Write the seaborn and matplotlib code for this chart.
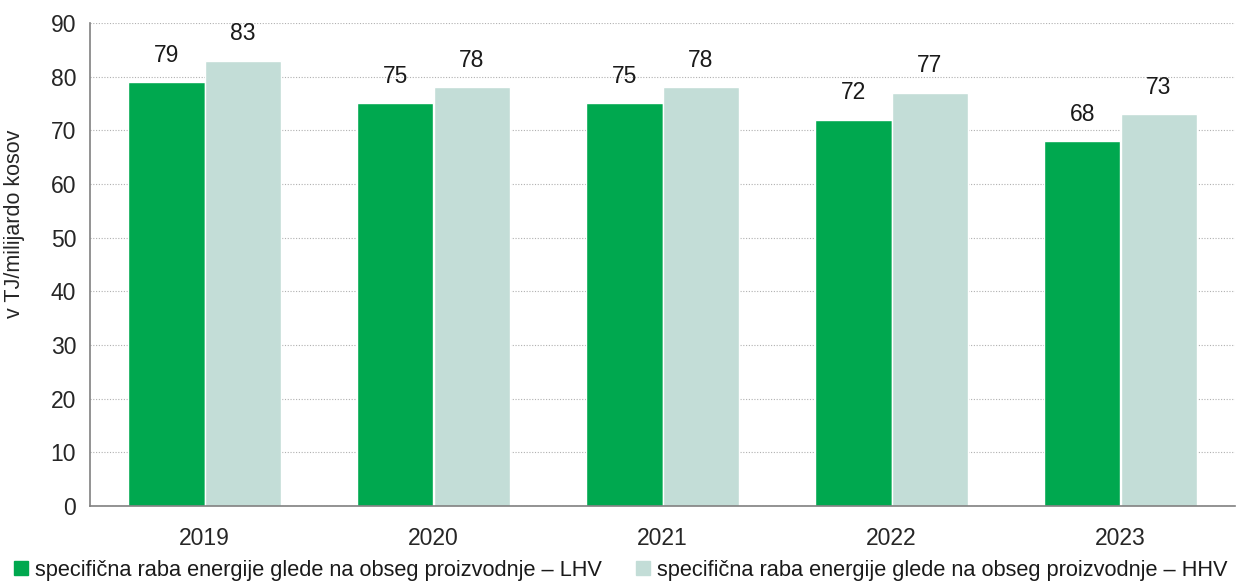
import pandas as pd
import matplotlib.pyplot as plt
import seaborn as sns
from matplotlib.lines import Line2D

years = ["2019", "2020", "2021", "2022", "2023"]
lhv = [79, 75, 75, 72, 68]
hhv = [83, 78, 78, 77, 73]
series = ["specifična raba energije glede na obseg proizvodnje – LHV",
          "specifična raba energije glede na obseg proizvodnje – HHV"]
colors = ["#00A84F", "#C3DDD7"]

df = pd.DataFrame({
    "leto": years * 2,
    "vrednost": lhv + hhv,
    "serija": [series[0]] * len(years) + [series[1]] * len(years),
})

sns.set_style("white")
plt.rcParams['font.family'] = ['Liberation Sans', 'DejaVu Sans']
plt.rcParams['font.size'] = 15.7
plt.rcParams['text.color'] = '#1a1a1a'

fig = plt.figure(figsize=(12.42, 5.87), dpi=100)
ax = fig.add_axes([90 / 1242, 1 - 506 / 587, 1145 / 1242, 483 / 587])

sns.barplot(data=df, x="leto", y="vrednost", hue="serija", palette=colors,
            width=0.67, gap=0, saturation=1, legend=False, ax=ax)

for cont in ax.containers:
    ax.bar_label(cont, fmt="%d", padding=11, fontsize=16.5)

ax.set_ylim(0, 90)
ax.set_yticks(range(0, 91, 10))
ax.set_xlim(-0.5, 4.5)
ax.yaxis.grid(True, linestyle=(0, (1, 1.5)), color="#b0b0b0", linewidth=0.8)
ax.set_axisbelow(True)
for s in ["top", "right"]:
    ax.spines[s].set_visible(False)
for s in ["left", "bottom"]:
    ax.spines[s].set_color("#808080")
    ax.spines[s].set_linewidth(1.2)

# category boundaries as x tick marks
ax.set_xticks([i + 0.5 for i in range(-1, len(years))], minor=False)
ax.set_xticklabels([])
ax.set_xticks(range(len(years)), minor=True)
ax.set_xticklabels(years, minor=True)
ax.tick_params(axis="x", which="major", direction="out", length=6, color="#808080", width=1.2)
ax.tick_params(axis="x", which="minor", length=0, pad=15, labelsize=16.5)
ax.tick_params(axis="y", direction="out", length=6, color="#808080", width=1.2, labelsize=16.5, pad=4)
ax.set_xlabel("")
ax.set_ylabel("v TJ/milijardo kosov", fontsize=15.5)
ax.yaxis.set_label_coords(-0.057, 0.584)

handles = [Line2D([], [], marker="s", linestyle="", markersize=10,
                  markerfacecolor=c, markeredgecolor=c) for c in colors]
fig.legend(handles, series, loc="lower left", bbox_to_anchor=(-0.004, -0.012), ncol=2,
           frameon=False, fontsize=15.7, handletextpad=0.05, columnspacing=1.28,
           handlelength=1.2, borderaxespad=0.2)

fig.savefig("out.png", dpi=100)
